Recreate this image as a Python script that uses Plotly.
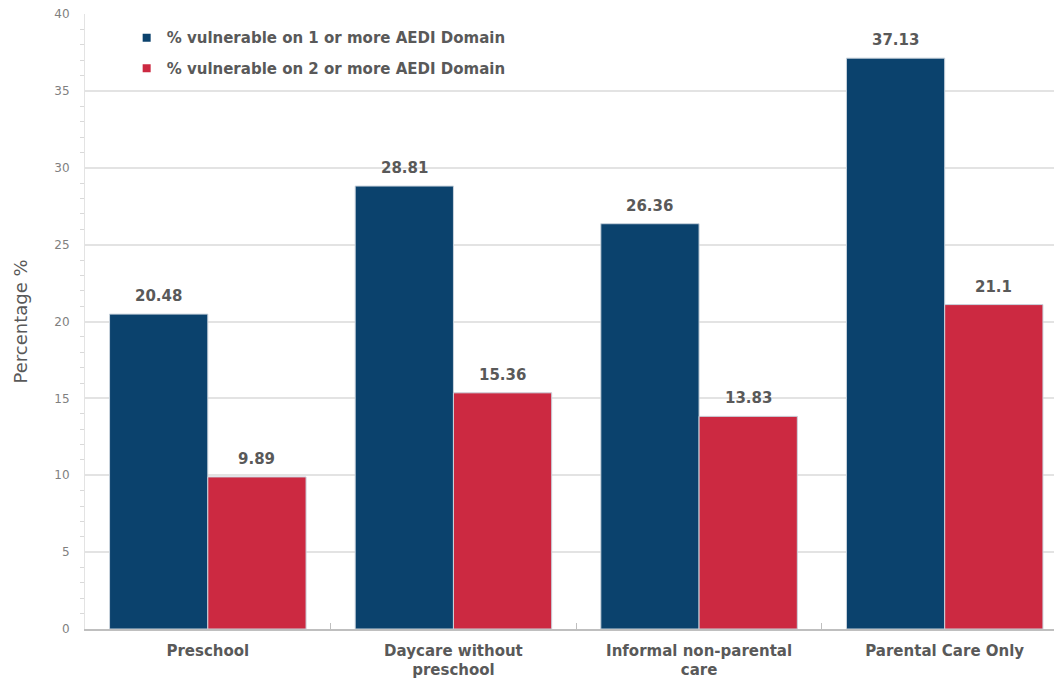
import plotly.graph_objects as go

categories = ["Preschool", "Daycare without<br>preschool", "Informal non-parental<br>care", "Parental Care Only"]
series_names = ["% vulnerable on 1 or more AEDI Domain", "% vulnerable on 2 or more AEDI Domain"]
vuln_1_plus = [20.48, 28.81, 26.36, 37.13]
vuln_2_plus = [9.89, 15.36, 13.83, 21.1]
value_labels_1 = ["20.48", "28.81", "26.36", "37.13"]
value_labels_2 = ["9.89", "15.36", "13.83", "21.1"]

blue = "#0B426D"
red = "#CC2941"
text_gray = "#595959"
font_family = "DejaVu Sans, Verdana, sans-serif"

fig = go.Figure()
for vals, color in [(vuln_1_plus, blue), (vuln_2_plus, red)]:
    fig.add_trace(go.Bar(
        x=categories, y=vals,
        marker=dict(color=color, line=dict(color="#C9D3DD", width=1)),
        showlegend=False,
    ))
for i, (name, color) in enumerate(zip(series_names, [blue, red])):
    fig.add_trace(go.Scatter(
        x=[None], y=[None], mode="markers", name=name, legendgroup=f"g{i}",
        marker=dict(symbol="square", size=8, color=color),
    ))

# value labels above each bar (bar offsets follow bargap=0.2 with 2 bars per group)
plot_w = 1054 - 85
x_range = [-0.5, 3.445]
cat_px = plot_w / (x_range[1] - x_range[0])
bar_px = cat_px * 0.8 / 2
for vals, labels, sign in [(vuln_1_plus, value_labels_1, -1), (vuln_2_plus, value_labels_2, 1)]:
    for cat, v, lab in zip(categories, vals, labels):
        fig.add_annotation(
            x=cat, y=v, text=lab, showarrow=False, yanchor="bottom",
            xshift=sign * bar_px / 2, yshift=7,
            font=dict(size=15, color=text_gray, family=font_family, weight="bold"),
        )

fig.update_layout(
    width=1054, height=679,
    margin=dict(l=85, r=0, t=14, b=50),
    paper_bgcolor="white", plot_bgcolor="white",
    barmode="group", bargap=0.2, bargroupgap=0,
    font=dict(family=font_family, color=text_gray),
    legend=dict(
        x=0.043, y=0.988, xanchor="left", yanchor="top",
        bgcolor="rgba(0,0,0,0)", itemwidth=30, tracegroupgap=8,
        font=dict(size=15, color=text_gray, family=font_family, weight="bold"),
    ),
)
fig.update_xaxes(
    range=x_range, showgrid=False, showline=True, linecolor="#BFBFBF", linewidth=1.5,
    tickson="boundaries", ticks="inside", ticklen=6, tickcolor="#BFBFBF",
    tickfont=dict(size=15, color=text_gray, family=font_family, weight="bold"),
    ticklabelstandoff=7,
)
fig.update_yaxes(
    range=[0, 40], dtick=5, showgrid=True, gridcolor="#E3E3E3", gridwidth=1.5,
    showline=True, linecolor="#E3E3E3", zeroline=False,
    tickfont=dict(size=12, color="#7F7F7F", family=font_family),
    ticks="", ticklabelstandoff=12,
    minor=dict(dtick=1, ticks="outside", ticklen=4, tickcolor="#D9D9D9", showgrid=False),
    title=dict(text="Percentage %", font=dict(size=18, color=text_gray, family=font_family), standoff=22),
)

fig.write_html("out.html")
